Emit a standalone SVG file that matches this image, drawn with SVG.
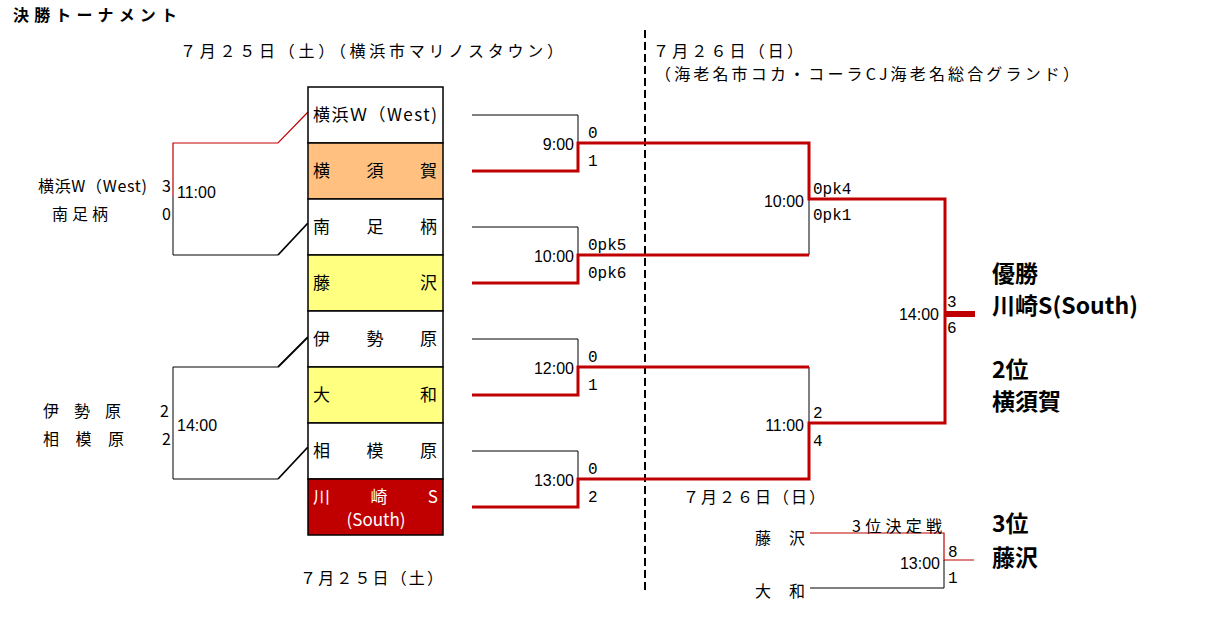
<svg xmlns="http://www.w3.org/2000/svg" width="1215" height="617" viewBox="0 0 1215 617">
<style>
.jp{font-family:'Noto Sans CJK JP','Noto Sans',sans-serif;font-size:16px;fill:#000}
.tl{font-family:'Noto Sans CJK JP','Noto Sans',sans-serif;font-size:17px;fill:#000}
.wh{fill:#fff}
.t{font-family:'Liberation Sans',Arial,sans-serif;font-size:16px;fill:#000}
.s{font-family:'Liberation Mono','DejaVu Sans Mono',monospace;font-size:16px;fill:#000}
.b{font-family:'Noto Sans CJK JP','Noto Sans',sans-serif;font-size:23px;font-weight:bold;fill:#000}
.end{text-anchor:end}
.thin{stroke:#000;stroke-width:1;fill:none}
.thinr{stroke:#C00000;stroke-width:1.2;fill:none}
.diag{stroke:#000;stroke-width:1.8;fill:none}
.red{stroke:#C00000;stroke-width:3;fill:none}
.box{stroke:#000;stroke-width:1.5}
</style>
<rect width="1215" height="617" fill="#fff"/>

<g id="headers">
<text class="jp" x="13" y="21" font-weight="bold" textLength="164" lengthAdjust="spacing">決勝トーナメント</text>
<text class="jp" x="180" y="57" textLength="383" lengthAdjust="spacing">７月２５日（土）（横浜市マリノスタウン）</text>
<text class="jp" x="653" y="57" textLength="150" lengthAdjust="spacing">７月２６日（日）</text>
<text class="jp" x="655" y="80" textLength="424" lengthAdjust="spacing">（海老名市コカ・コーラCJ海老名総合グランド）</text>
<text class="jp" x="683" y="503" textLength="142" lengthAdjust="spacing">７月２６日（日）</text>
<text class="jp" x="300" y="584" textLength="143" lengthAdjust="spacing">７月２５日（土）</text>
</g>

<g id="connectors">
<path d="M645,30 V590" stroke="#000" stroke-width="2" stroke-dasharray="8 4" fill="none"/>
<path class="thinr" d="M308,112 L278,143 H173 V196"/>
<path class="thin" d="M173,196 V255 H278"/>
<path class="diag" d="M278,255 L308,223"/>
<path class="thin" d="M278,367 H173 V479 H278"/>
<path class="diag" d="M278,367 L308,337 M278,479 L308,447"/>
<path class="thin" d="M472,115 H578 V143"/>
<path class="thin" d="M472,227 H578 V255"/>
<path class="thin" d="M472,339 H578 V367"/>
<path class="thin" d="M472,451 H578 V479"/>
<path class="thin" d="M809,199 V255"/>
<path class="thin" d="M809,367 V423"/>
<path class="thin" d="M945,199 V311"/>
<path class="red" d="M472,171 H578 V143 H809 V199 H945 V311"/>
<path class="red" d="M472,283 H578 V255 H809"/>
<path class="red" d="M472,395 H578 V367 H809"/>
<path class="red" d="M472,507 H578 V479 H809 V423 H945 V311"/>
<path d="M945,314 H975" stroke="#C00000" stroke-width="6" fill="none"/>
<path class="thinr" d="M810,533 H944 V560 H974"/>
<path class="thin" d="M944,560 V588 H810"/>
</g>

<g id="team-yokohamaw"><rect class="box" x="308" y="87" width="135" height="56" fill="#fff"/><text class="tl" x="313" y="121" textLength="124" lengthAdjust="spacing">横浜Ｗ（West)</text></g>
<g id="team-yokosuka"><rect class="box" x="308" y="143" width="135" height="56" fill="#FFC080"/><text class="tl" x="313" y="177" textLength="124" lengthAdjust="spacing">横須賀</text></g>
<g id="team-minamiashigara"><rect class="box" x="308" y="199" width="135" height="56" fill="#fff"/><text class="tl" x="313" y="233" textLength="124" lengthAdjust="spacing">南足柄</text></g>
<g id="team-fujisawa"><rect class="box" x="308" y="255" width="135" height="56" fill="#FFFF80"/><text class="tl" x="313" y="289" textLength="124" lengthAdjust="spacing">藤沢</text></g>
<g id="team-isehara"><rect class="box" x="308" y="311" width="135" height="56" fill="#fff"/><text class="tl" x="313" y="345" textLength="124" lengthAdjust="spacing">伊勢原</text></g>
<g id="team-yamato"><rect class="box" x="308" y="367" width="135" height="56" fill="#FFFF80"/><text class="tl" x="313" y="401" textLength="124" lengthAdjust="spacing">大和</text></g>
<g id="team-sagamihara"><rect class="box" x="308" y="423" width="135" height="56" fill="#fff"/><text class="tl" x="313" y="457" textLength="124" lengthAdjust="spacing">相模原</text></g>
<g id="team-kawasakis"><rect class="box" x="308" y="479" width="135" height="56" fill="#C00000"/><text class="tl wh" x="313" y="503" textLength="125" lengthAdjust="spacing">川崎S</text><text class="tl wh" x="376" y="526" text-anchor="middle">(South)</text></g>

<g id="prelim-1">
<text class="jp" x="38" y="192" textLength="109" lengthAdjust="spacing">横浜W（West)</text>
<text class="jp" x="162" y="192">3</text>
<text class="jp" x="52" y="220" textLength="56" lengthAdjust="spacing">南足柄</text>
<text class="jp" x="162" y="220">0</text>
<text class="t" x="177" y="198">11:00</text>
</g>
<g id="prelim-2">
<text class="jp" x="43" y="417" textLength="78" lengthAdjust="spacing">伊勢原</text>
<text class="jp" x="160" y="417">2</text>
<text class="jp" x="43" y="445" textLength="81" lengthAdjust="spacing">相模原</text>
<text class="jp" x="162" y="445">2</text>
<text class="t" x="177" y="431">14:00</text>
</g>

<g id="qf-labels">
<text class="t end" x="574" y="150">9:00</text>
<text class="s" x="588" y="138">0</text><text class="s" x="588" y="166">1</text>
<text class="t end" x="574" y="262">10:00</text>
<text class="s" x="588" y="250">0pk5</text><text class="s" x="588" y="278">0pk6</text>
<text class="t end" x="574" y="374">12:00</text>
<text class="s" x="588" y="362">0</text><text class="s" x="588" y="390">1</text>
<text class="t end" x="574" y="486">13:00</text>
<text class="s" x="588" y="474">0</text><text class="s" x="588" y="502">2</text>
</g>
<g id="sf-labels">
<text class="t end" x="804" y="207">10:00</text>
<text class="s" x="813" y="194">0pk4</text><text class="s" x="813" y="220">0pk1</text>
<text class="t end" x="804" y="431">11:00</text>
<text class="s" x="813" y="418">2</text><text class="s" x="813" y="446">4</text>
</g>
<g id="final-labels">
<text class="t end" x="939" y="320">14:00</text>
<text class="s" x="947" y="307">3</text><text class="s" x="947" y="333">6</text>
</g>
<g id="results">
<text class="b" x="992" y="282">優勝</text>
<text class="b" x="992" y="314" textLength="146" lengthAdjust="spacing">川崎S(South)</text>
<text class="b" x="992" y="378">2位</text>
<text class="b" x="992" y="410">横須賀</text>
<text class="b" x="992" y="532">3位</text>
<text class="b" x="992" y="566">藤沢</text>
</g>
<g id="third-place">
<text class="jp" x="852" y="532" textLength="90" lengthAdjust="spacing">3位決定戦</text>
<text class="jp" x="755" y="544" textLength="50" lengthAdjust="spacing">藤沢</text>
<text class="jp" x="755" y="597" textLength="50" lengthAdjust="spacing">大和</text>
<text class="t end" x="940" y="569">13:00</text>
<text class="s" x="948" y="557">8</text><text class="s" x="948" y="583">1</text>
</g>
</svg>
